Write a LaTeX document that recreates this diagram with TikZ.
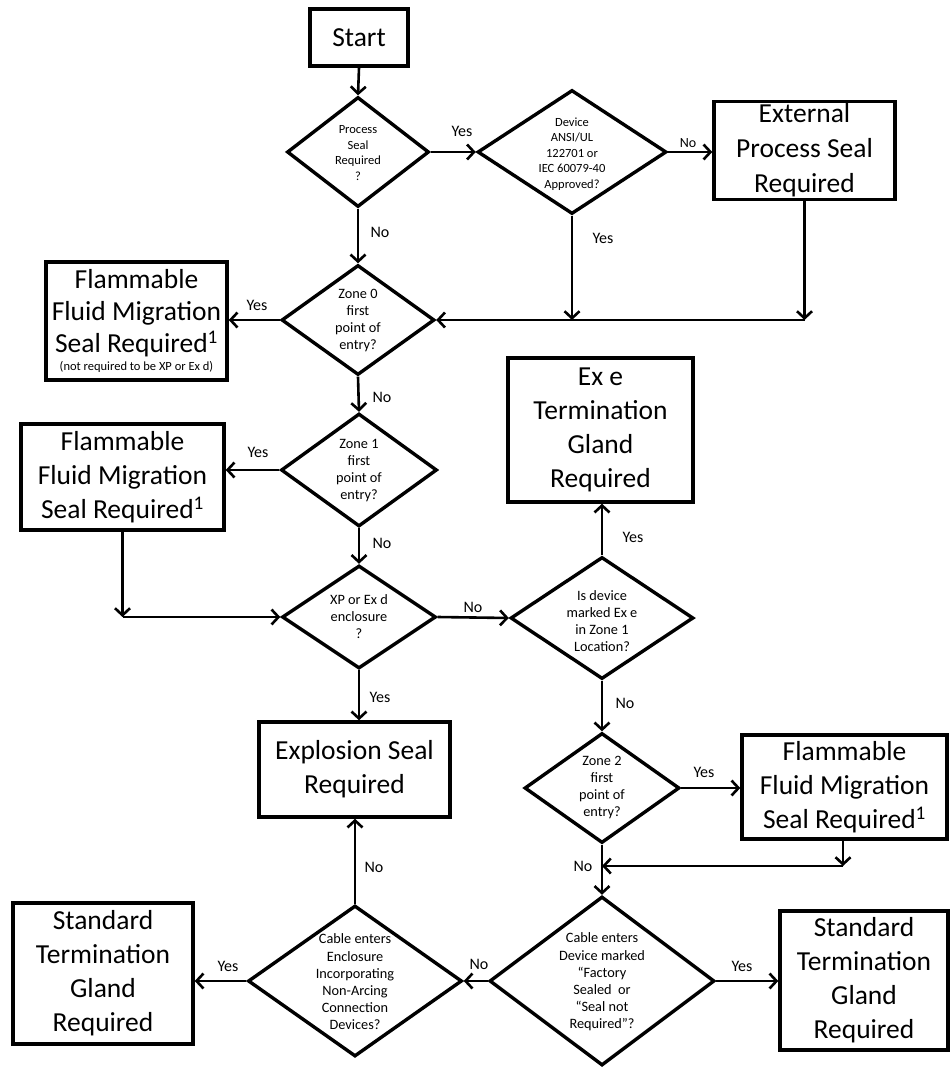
\documentclass[tikz,border=0pt]{standalone}
\usepackage{fontspec}
\setmainfont{Carlito}
\usetikzlibrary{shapes.geometric,arrows.meta}
\begin{document}
\begin{tikzpicture}[x=1pt,y=-1pt,
 box/.style={draw, line width=3.4pt, inner sep=2pt, align=center, font=\fontsize{27.5}{34}\selectfont},
 dia/.style={draw, diamond, line width=3.4pt, inner sep=0pt},
 dt/.style={align=center, inner sep=0pt},
 small/.style={dt, font=\fontsize{12.5}{15.5}\selectfont},
 mid/.style={dt, font=\fontsize{14.3}{17}\selectfont},
 lab/.style={inner sep=0pt, font=\fontsize{16}{18}\selectfont},
 arr/.style={line width=2.6pt, -{Straight Barb[length=7pt,width=15pt]}},
]
\useasboundingbox (0,0) rectangle (951,1067);

% nodes
\node[box, minimum width=98pt, minimum height=57pt] (start) at (359,37.5) {Start};
\node[dia, minimum width=142pt, minimum height=110pt] (d1) at (358,152) {};
\node[small] (t1) at (358,153) {Process\\Seal\\Required\\?};
\node[dia, minimum width=189pt, minimum height=124pt] (d2) at (572,152) {};
\node[small] (t2) at (572,154) {Device\\ANSI/UL\\122701 or\\IEC 60079-40\\Approved?};
\node[box, minimum width=181pt, minimum height=95pt, font=\fontsize{27.5}{35}\selectfont] (ext) at (804.5,150.5) {External\\Process Seal\\Required};

\node[dia, minimum width=153pt, minimum height=110pt] (z0) at (358,320) {};
\node[mid] (t3) at (358,321) {Zone 0\\first\\point of\\entry?};
\node[box, minimum width=181pt, minimum height=118pt, font=\fontsize{27.5}{32}\selectfont] (fl1) at (136.5,321) {Flammable\\Fluid Migration\\Seal Required\textsuperscript{1}\\[-14pt]{\fontsize{12.5}{15}\selectfont (not required to be XP or Ex d)}};

\node[dia, minimum width=156pt, minimum height=113pt] (z1) at (359,470) {};
\node[mid] (t4) at (359,471) {Zone 1\\first\\point of\\entry?};
\node[box, minimum width=203pt, minimum height=106pt] (fl2) at (122.5,477) {Flammable\\Fluid Migration\\Seal Required\textsuperscript{1}};

\node[dia, minimum width=154pt, minimum height=103pt] (xp) at (359,617) {};
\node[mid] (t5) at (359,617) {XP or Ex d\\enclosure\\?};
\node[dia, minimum width=183pt, minimum height=122pt] (isd) at (602,618) {};
\node[mid] (t6) at (602,621) {Is device\\marked Ex e\\in Zone 1\\Location?};
\node[box, minimum width=185pt, minimum height=144pt] (exe) at (600.5,430) {Ex e\\Termination\\Gland\\Required};

\node[box, minimum width=191pt, minimum height=95pt] (expl) at (354.5,769.5) {Explosion Seal\\Required};
\node[dia, minimum width=155pt, minimum height=110pt] (z2) at (602,788) {};
\node[mid] (t7) at (602,788) {Zone 2\\first\\point of\\entry?};
\node[box, minimum width=205pt, minimum height=104pt] (fl3) at (844.5,787) {Flammable\\Fluid Migration\\Seal Required\textsuperscript{1}};

\node[dia, minimum width=225pt, minimum height=169pt] (cdev) at (602,981) {};
\node[mid, font=\fontsize{14.3}{17.2}\selectfont] (t8) at (602,982) {Cable enters\\Device marked\\“Factory\\Sealed\ \ or\\“Seal not\\Required”?};
\node[box, minimum width=168pt, minimum height=139pt] (std2) at (864,980.5) {Standard\\Termination\\Gland\\Required};
\node[dia, minimum width=214pt, minimum height=151pt] (encl) at (355,981) {};
\node[mid, font=\fontsize{14.3}{17.2}\selectfont] (t9) at (355,982) {Cable enters\\Enclosure\\Incorporating\\Non-Arcing\\Connection\\Devices?};
\node[box, minimum width=180pt, minimum height=141pt] (std1) at (103,973.5) {Standard\\Termination\\Gland\\Required};

% bend points
\coordinate (c1) at (804.5,320);
\coordinate (c3) at (122.5,617);
\coordinate (c4) at (843,866);
\coordinate (c5) at (602,866);

% connectors
\draw[arr] (start.south) -- (d1.north);
\draw[arr] (d1.east) -- (d2.west);
\draw[arr] (d2.east) -- (d2.east -| ext.west);
\draw[arr] (d1.south) -- (z0.north);
\draw[arr] (ext.south) -- (c1);
\draw[arr] (c1) -- (z0.east);
\draw[arr] (d2.south) -- (d2.south |- c1);
\draw[arr] (z0.west) -- (z0.west -| fl1.east);
\draw[arr] (z0.south) -- (z1.north);
\draw[arr] (z1.west) -- (z1.west -| fl2.east);
\draw[arr] (fl2.south) -- (c3);
\draw[arr] (c3) -- (xp.west);
\draw[arr] (z1.south) -- (xp.north);
\draw[arr] (xp.east) -- (isd.west);
\draw[arr] (isd.north) -- (isd.north |- exe.south);
\draw[arr] (xp.south) -- (xp.south |- expl.north);
\draw[arr] (isd.south) -- (z2.north);
\draw[arr] (z2.east) -- (z2.east -| fl3.west);
\draw[arr] (fl3.south -| c4) -- (c4);
\draw[arr] (c4) -- (c5);
\draw[arr] (z2.south) -- (cdev.north);
\draw[arr] (cdev.west) -- (encl.east);
\draw[arr] (cdev.east) -- (cdev.east -| std2.west);
\draw[arr] (encl.north) -- (encl.north |- expl.south);
\draw[arr] (encl.west) -- (encl.west -| std1.east);

% labels
\node[lab] (l1) at (462,131) {Yes};
\node[lab, font=\fontsize{14}{16}\selectfont] (l2) at (688,143) {No};
\node[lab] (l3) at (380,232) {No};
\node[lab] (l4) at (603,238) {Yes};
\node[lab] (l5) at (257,305) {Yes};
\node[lab] (l6) at (382,397) {No};
\node[lab] (l7) at (258,452) {Yes};
\node[lab] (l8) at (382,543) {No};
\node[lab] (l9) at (473,607) {No};
\node[lab] (l10) at (633,537) {Yes};
\node[lab] (l11) at (380,697) {Yes};
\node[lab] (l12) at (625,703) {No};
\node[lab] (l13) at (704,772) {Yes};
\node[lab] (l14) at (583,866) {No};
\node[lab] (l15) at (479,964) {No};
\node[lab] (l16) at (742,966) {Yes};
\node[lab] (l17) at (374,867) {No};
\node[lab] (l18) at (228,966) {Yes};
\end{tikzpicture}
\end{document}
